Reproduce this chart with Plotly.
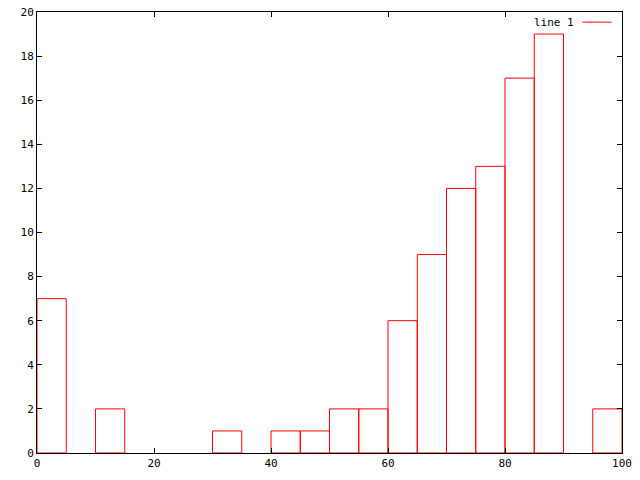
import plotly.graph_objects as go

bin_starts = [0, 5, 10, 15, 20, 25, 30, 35, 40, 45, 50, 55, 60, 65, 70, 75, 80, 85, 90, 95]
counts = [7, 0, 2, 0, 0, 0, 1, 0, 1, 1, 2, 2, 6, 9, 12, 13, 17, 19, 0, 2]
bin_width = 5
series_name = "line 1"
x_ticks = [0, 20, 40, 60, 80, 100]
y_ticks = [0, 2, 4, 6, 8, 10, 12, 14, 16, 18, 20]

centers = [s + bin_width / 2 for s in bin_starts]
# empty bins draw nothing visible (as in gnuplot, hidden under the border)
plot_counts = [c if c != 0 else None for c in counts]

fig = go.Figure()
fig.add_trace(go.Bar(
    x=centers, y=plot_counts, width=[bin_width] * len(counts),
    marker=dict(color="rgba(0,0,0,0)", line=dict(color="#ff0000", width=1)),
    showlegend=False, hoverinfo="skip",
))

font = dict(family="DejaVu Sans Mono", size=11, color="black")
axis_common = dict(
    showline=True, linecolor="black", linewidth=1, mirror="allticks",
    ticks="inside", ticklen=5, tickcolor="black", showgrid=False,
    zeroline=False, tickfont=font, automargin=False, layer="above traces",
)
fig.update_layout(
    width=640, height=480,
    margin=dict(l=37, r=18, t=12, b=27, autoexpand=False),
    paper_bgcolor="white", plot_bgcolor="white",
    bargap=0, showlegend=False, hovermode=False,
    xaxis=dict(range=[0, 100], tickvals=x_ticks, **axis_common),
    yaxis=dict(range=[0, 20], tickvals=y_ticks, **axis_common),
    font=font,
)
# legend in gnuplot style: text then sample line
fig.add_annotation(xref="paper", yref="paper", x=0.921, y=0.977, text=series_name,
                   showarrow=False, xanchor="right", yanchor="middle", font=font)
fig.add_shape(type="line", xref="paper", yref="paper", x0=0.932, x1=0.982, y0=0.977, y1=0.977,
              line=dict(color="#ff0000", width=1))
fig.write_html("out.html", config={"displayModeBar": False, "staticPlot": True},
               post_script="document.body.style.margin='0';")
